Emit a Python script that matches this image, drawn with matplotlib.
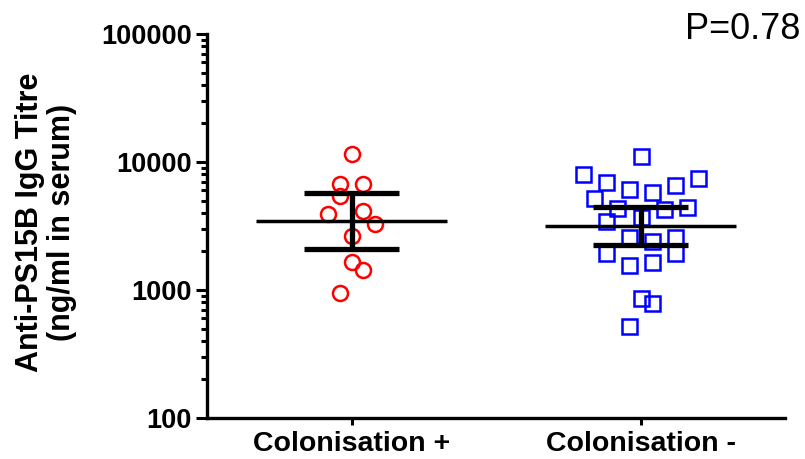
import numpy as np
import matplotlib
matplotlib.use("Agg")
import matplotlib.pyplot as plt
from matplotlib.ticker import LogLocator, NullFormatter, FixedFormatter, FixedLocator

plt.rcParams['font.family'] = ['Liberation Sans', 'DejaVu Sans']

# data
groups = ['Colonisation +', 'Colonisation -']

col_pos = [11480, 6700, 6700, 5420, 3900, 4140, 3300, 2640, 1655, 1432, 953]
col_pos_jitter = [0, -1, 1, -1, -2, 1, 2, 0, 0, 1, -1]

col_neg = [11140, 8060, 7020, 7550, 6650, 6110, 5860, 5260, 4350, 4290, 4430,
           3460, 3740, 2580, 2413, 2580, 1958, 1935, 1568, 1663, 871, 787, 526]
col_neg_jitter = [0, -5, -3, 5, 3, -1, 1, -4, -2, 2, 4,
                  -3, 0, -1, 1, 3, 3, -3, -1, 1, 0, 1, -1]

# geometric mean and 95% CI
geo_mean = [3480, 3180]
ci_low = [2100, 2260]
ci_high = [5750, 4480]

p_text = 'P=0.78'

fig = plt.figure(figsize=(8.05, 4.59), dpi=100)
ax = fig.add_axes([207 / 805, 41 / 459, (785 - 207) / 805, (418 - 34) / 459])

step = 0.04
ax.plot(np.array(col_pos_jitter) * step + 0, col_pos, 'o', ms=10.8, mew=1.8,
        mfc='none', mec='#ff0000', zorder=2, clip_on=False)
ax.plot(np.array(col_neg_jitter) * step + 1, col_neg, 's', ms=10.8, mew=1.8,
        mfc='none', mec='#0000ff', zorder=2, clip_on=False)

for i in range(len(groups)):
    ax.hlines(geo_mean[i], i - 0.33, i + 0.33, color='black', lw=2.5, zorder=3)
    ax.vlines(i, ci_low[i], ci_high[i], color='black', lw=3.8, zorder=3)
    ax.hlines([ci_low[i], ci_high[i]], i - 0.166, i + 0.166, color='black', lw=3.8, zorder=3)

ax.set_yscale('log')
ax.set_ylim(100, 100000)
ax.set_xlim(-0.5, 1.5)

ax.yaxis.set_major_locator(FixedLocator([100, 1000, 10000, 100000]))
ax.yaxis.set_major_formatter(FixedFormatter(['100', '1000', '10000', '100000']))
ax.yaxis.set_minor_locator(LogLocator(base=10, subs=np.arange(2, 10)))
ax.yaxis.set_minor_formatter(NullFormatter())

ax.set_xticks(range(len(groups)))
ax.set_xticklabels(groups, fontsize=20.5, fontweight='bold')
for lab in ax.get_yticklabels():
    lab.set_fontsize(19.5)
    lab.set_fontweight('bold')

ax.tick_params(axis='y', which='major', length=8, width=2.2, pad=3)
ax.tick_params(axis='y', which='minor', length=4.5, width=2.2)
ax.tick_params(axis='x', which='major', length=5, width=2.2, pad=4.5)

for s in ['top', 'right']:
    ax.spines[s].set_visible(False)
for s in ['left', 'bottom']:
    ax.spines[s].set_linewidth(2.4)

fig.text(46 / 805, 1 - 222 / 459, 'Anti-PS15B IgG Titre\n(ng/ml in serum)',
         fontsize=22, fontweight='bold', rotation=90, ha='center', va='center',
         multialignment='center', linespacing=1.1)

fig.text(800 / 805, 1 - 12 / 459, p_text, fontsize=26, ha='right', va='top')

fig.savefig('out.png', dpi=100)
